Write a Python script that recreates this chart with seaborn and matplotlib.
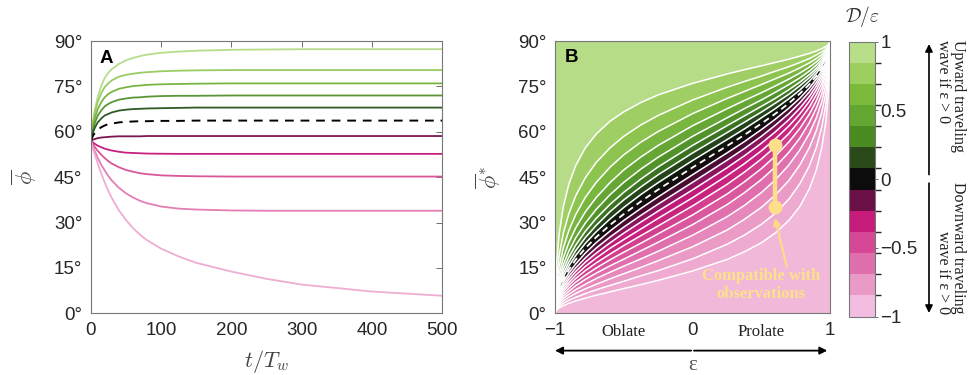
import numpy as np
import pandas as pd
import matplotlib
matplotlib.use("Agg")
import matplotlib.pyplot as plt
import matplotlib as mpl
import seaborn as sns
from matplotlib.colors import ListedColormap, BoundaryNorm
from matplotlib.patches import FancyArrowPatch

# ---------------- data: panel A ----------------
t_vals = [0, 3, 6, 10, 15, 20, 25, 30, 40, 50, 60, 70, 80, 100, 125, 150, 200, 250, 300, 400, 500]
phiA = {
    "g1": [57.0, 63.2, 67.5, 71.5, 75.2, 77.8, 79.5, 80.7, 82.4, 83.6, 84.4, 85.0, 85.5, 86.1, 86.5, 86.8, 87.1, 87.2, 87.3, 87.3, 87.3],
    "g2": [57.0, 62.5, 66.4, 69.9, 72.8, 74.8, 76.0, 77.0, 78.2, 78.8, 79.2, 79.5, 79.7, 80.0, 80.2, 80.3, 80.4, 80.4, 80.4, 80.4, 80.4],
    "g3": [57.0, 61.5, 64.6, 67.5, 69.8, 71.4, 72.5, 73.2, 74.2, 74.7, 75.1, 75.3, 75.5, 75.7, 75.8, 75.9, 76.0, 76.0, 76.0, 76.0, 76.0],
    "g4": [57.0, 60.5, 63.0, 65.3, 67.1, 68.4, 69.2, 69.8, 70.6, 71.0, 71.3, 71.4, 71.6, 71.8, 71.9, 71.9, 72.0, 72.0, 72.0, 72.0, 72.0],
    "g5": [57.0, 59.6, 61.4, 63.1, 64.4, 65.4, 65.9, 66.4, 67.0, 67.3, 67.5, 67.6, 67.7, 67.8, 67.9, 68.0, 68.0, 68.0, 68.0, 68.0, 68.0],
    "m1": [57.0, 57.4, 57.6, 57.9, 58.1, 58.2, 58.3, 58.4, 58.5, 58.5, 58.5, 58.5, 58.6, 58.6, 58.6, 58.6, 58.6, 58.6, 58.6, 58.6, 58.6],
    "m2": [57.0, 56.5, 56.0, 55.4, 54.9, 54.4, 54.1, 53.8, 53.4, 53.1, 53.0, 52.9, 52.8, 52.75, 52.7, 52.7, 52.7, 52.7, 52.7, 52.7, 52.7],
    "m3": [57.0, 55.9, 54.9, 53.7, 52.4, 51.3, 50.3, 49.5, 48.3, 47.4, 46.8, 46.3, 46.0, 45.6, 45.4, 45.3, 45.2, 45.2, 45.2, 45.2, 45.2],
    "m4": [57.0, 55.2, 53.5, 51.4, 49.1, 47.2, 45.4, 43.9, 41.5, 39.7, 38.3, 37.2, 36.4, 35.3, 34.6, 34.3, 34.0, 33.9, 33.9, 33.9, 33.9],
    "m5": [57.0, 54.6, 52.3, 49.5, 46.2, 43.2, 40.5, 38.1, 34.1, 30.9, 28.2, 26.0, 24.2, 21.4, 18.8, 16.7, 13.8, 11.4, 9.5, 7.2, 5.8],
}
phiA_dashed = [57.0, 58.6, 59.7, 60.7, 61.5, 62.1, 62.5, 62.7, 63.1, 63.3, 63.4, 63.5, 63.5, 63.6, 63.6, 63.7, 63.7, 63.7, 63.7, 63.7, 63.7]
colorsA = {
    "g1": "#b5dd8c", "g2": "#9bcc62", "g3": "#78b545", "g4": "#5a9636", "g5": "#2f5a24",
    "m1": "#7d1650", "m2": "#c8207f", "m3": "#d95799", "m4": "#e37fb3", "m5": "#eeadd2",
}

# ---------------- data: panel B ----------------
eps = [-1, -0.99, -0.97, -0.94, -0.9, -0.85, -0.78, -0.7, -0.6, -0.5, -0.375, -0.25, 0,
       0.25, 0.375, 0.5, 0.6, 0.7, 0.78, 0.85, 0.9, 0.94, 0.97, 0.99, 1]
upper_lines = [
    [0, 15.9, 26.3, 35.2, 42.6, 48.8, 54.7, 59.3, 63.5, 66.6, 69.7, 72.2, 76.0, 79.1, 80.5, 81.8, 82.9, 84.0, 85.0, 85.9, 86.7, 87.5, 88.2, 89.0, 90],
    [0, 11.3, 19.2, 26.4, 32.9, 38.8, 44.8, 49.9, 54.7, 58.5, 62.3, 65.4, 70.5, 74.7, 76.6, 78.4, 80.0, 81.5, 82.9, 84.2, 85.4, 86.4, 87.5, 88.6, 90],
    [0, 9.1, 15.5, 21.6, 27.3, 32.6, 38.3, 43.3, 48.3, 52.4, 56.6, 60.1, 66.0, 71.0, 73.3, 75.6, 77.5, 79.4, 81.1, 82.8, 84.2, 85.5, 86.9, 88.2, 90],
    [0, 7.6, 13.1, 18.3, 23.3, 28.2, 33.5, 38.3, 43.2, 47.4, 51.7, 55.5, 62.0, 67.6, 70.3, 72.9, 75.1, 77.4, 79.4, 81.4, 83.1, 84.7, 86.3, 87.8, 90],
    [0, 6.6, 11.4, 16.0, 20.5, 24.9, 29.8, 34.4, 39.2, 43.3, 47.7, 51.6, 58.5, 64.6, 67.6, 70.5, 73.0, 75.6, 77.8, 80.1, 82.0, 83.9, 85.7, 87.5, 90],
    [0, 5.9, 10.2, 14.4, 18.5, 22.5, 27.1, 31.4, 36.0, 40.0, 44.4, 48.4, 55.5, 62.0, 65.2, 68.4, 71.0, 73.9, 76.4, 78.9, 81.0, 83.1, 85.2, 87.2, 90],
    [0, 5.4, 9.3, 13.1, 16.9, 20.7, 25.0, 29.1, 33.6, 37.5, 41.8, 45.8, 53.0, 59.7, 63.1, 66.5, 69.4, 72.4, 75.2, 77.9, 80.2, 82.5, 84.7, 86.9, 90],
    [0, 4.9, 8.5, 12.0, 15.6, 19.1, 23.1, 27.0, 31.2, 35.0, 39.3, 43.2, 50.5, 57.4, 60.9, 64.6, 67.6, 70.9, 73.8, 76.8, 79.3, 81.8, 84.2, 86.7, 90],
]
zero_line = [0, 4.5, 7.9, 11.1, 14.4, 17.7, 21.5, 25.2, 29.2, 32.8, 37.0, 40.9, 48.2, 55.3, 58.9, 62.7, 65.9, 69.4, 72.6, 75.7, 78.4, 81.1, 83.7, 86.4, 90]
lower_lines = [
    [0, 4.2, 7.2, 10.3, 13.3, 16.3, 19.9, 23.4, 27.2, 30.7, 34.7, 38.5, 45.8, 53.0, 56.7, 60.7, 64.1, 67.8, 71.1, 74.5, 77.4, 80.3, 83.2, 86.1, 90],
    [0, 3.8, 6.6, 9.4, 12.2, 15.0, 18.3, 21.6, 25.2, 28.5, 32.4, 36.1, 43.3, 50.6, 54.4, 58.5, 62.1, 66.0, 69.6, 73.2, 76.3, 79.4, 82.5, 85.7, 90],
    [0, 3.5, 6.1, 8.6, 11.2, 13.8, 16.9, 19.9, 23.3, 26.5, 30.2, 33.8, 40.8, 48.1, 52.0, 56.2, 59.9, 64.0, 67.8, 71.7, 75.1, 78.5, 81.9, 85.3, 90],
    [0, 3.2, 5.5, 7.9, 10.2, 12.6, 15.5, 18.3, 21.5, 24.4, 27.9, 31.4, 38.2, 45.5, 49.4, 53.7, 57.6, 61.9, 65.9, 70.1, 73.8, 77.4, 81.1, 84.9, 90],
    [0, 2.9, 5.0, 7.2, 9.3, 11.5, 14.1, 16.7, 19.6, 22.4, 25.7, 28.9, 35.5, 42.6, 46.6, 51.0, 55.0, 59.4, 63.8, 68.2, 72.2, 76.1, 80.2, 84.3, 90],
    [0, 2.6, 4.5, 6.4, 8.3, 10.3, 12.6, 15.0, 17.7, 20.2, 23.2, 26.3, 32.5, 39.4, 43.4, 47.8, 51.9, 56.6, 61.1, 65.9, 70.2, 74.6, 79.0, 83.7, 90],
    [0, 2.3, 4.0, 5.6, 7.3, 9.1, 11.2, 13.3, 15.7, 17.9, 20.7, 23.5, 29.3, 35.9, 39.8, 44.2, 48.3, 53.2, 57.9, 63.1, 67.8, 72.6, 77.6, 82.8, 90],
    [0, 2.0, 3.4, 4.9, 6.3, 7.8, 9.6, 11.5, 13.6, 15.6, 18.0, 20.5, 25.8, 31.9, 35.6, 39.9, 44.0, 49.0, 54.0, 59.5, 64.6, 70.0, 75.7, 81.7, 90],
    [0, 1.6, 2.9, 4.1, 5.3, 6.6, 8.1, 9.6, 11.4, 13.1, 15.2, 17.4, 22.0, 27.5, 31.0, 35.0, 39.0, 43.9, 49.0, 54.8, 60.4, 66.5, 73.0, 80.1, 90],
    [0, 1.3, 2.3, 3.3, 4.3, 5.3, 6.5, 7.8, 9.2, 10.6, 12.4, 14.1, 18.0, 22.8, 25.8, 29.4, 33.0, 37.7, 42.8, 48.8, 54.8, 61.6, 69.2, 77.7, 90],
    [0, 1.0, 1.8, 2.5, 3.3, 4.1, 5.0, 6.0, 7.1, 8.2, 9.5, 10.9, 14.0, 17.8, 20.3, 23.3, 26.5, 30.7, 35.3, 41.2, 47.4, 54.8, 63.6, 74.1, 90],
]
band_colors = [
    "#b6dc88", "#9fcf64", "#8cc44f", "#79b640", "#66a635", "#52922a", "#3b7222", "#24431a", "#0f170d",
    "#150a10", "#4a0c32", "#8c1360", "#c01a7a", "#c8247f", "#d2408f", "#d9589e", "#e070ad",
    "#e688bb", "#ea9cc6", "#eeaad0", "#f1b8d9",
]
cbar_colors_top_down = [
    "#b9de8a", "#9dce60", "#7cba3c", "#64a632", "#4a8b22", "#2a4a1a", "#0c0c0c",
    "#6a1046", "#c71b7c", "#d64896", "#e070ad", "#ea9ac6", "#f2bde0",
]
obs_eps = [0.6, 0.6]
obs_phi = [35.0, 55.5]
obs_arrow_tail = (0.685, 15.4)
obs_arrow_head = (0.6, 31.5)

deg_ticks = [0, 15, 30, 45, 60, 75, 90]
t_ticks = [0, 100, 200, 300, 400, 500]

# ---------------- style ----------------
sns.set_theme(style="white")
plt.rcParams["font.family"] = ["Liberation Sans", "DejaVu Sans"]
plt.rcParams["mathtext.fontset"] = "cm"
SERIF = ["Liberation Serif", "DejaVu Serif"]
TICKC = "#262626"

fig = plt.figure(figsize=(9.69, 3.75), dpi=100)
axA = fig.add_axes([0.0936, 0.1645, 0.3628, 0.7261])
axB = fig.add_axes([0.5728, 0.1645, 0.2838, 0.7261])
cax = fig.add_axes([0.8762, 0.156, 0.0268, 0.733])


def style_axes(ax):
    ax.tick_params(direction="in", length=4, width=0.6, color="#555555", top=True, right=True,
                   labelsize=13.5, labelcolor=TICKC, pad=6)
    for s in ax.spines.values():
        s.set_color("#777777")
        s.set_linewidth(0.8)


# ---------------- panel A ----------------
dfA = pd.DataFrame([(t, v, k) for k, vals in phiA.items() for t, v in zip(t_vals, vals)],
                   columns=["t", "phi", "curve"])
sns.lineplot(data=dfA, x="t", y="phi", hue="curve", palette=colorsA, estimator=None,
             legend=False, lw=1.3, ax=axA)
sns.lineplot(x=t_vals, y=phiA_dashed, color="black", lw=1.4, ax=axA)
axA.lines[-1].set_dashes([4.5, 3.5])
axA.set_xlim(t_ticks[0], t_ticks[-1])
axA.set_ylim(deg_ticks[0], deg_ticks[-1])
axA.set_xticks(t_ticks)
axA.set_yticks(deg_ticks)
axA.set_yticklabels([f"{d}°" for d in deg_ticks])
axA.set_xlabel("")
axA.set_ylabel("")
style_axes(axA)
axA.text(0.026, 0.968, "A", transform=axA.transAxes, fontsize=13.5, fontweight="bold",
         va="top", ha="left", color="black")
axA.text(0.5, -0.178, r"$t/T_w$", transform=axA.transAxes, ha="center", va="center",
         fontsize=16, color="#444444")
axA.text(-0.19, 0.5, r"$\overline{\phi}$", transform=axA.transAxes, ha="center", va="center",
         fontsize=16, rotation=90, color="#444444")

# ---------------- panel B ----------------
boundaries = upper_lines + [zero_line] + lower_lines
top_edge = [deg_ticks[-1]] * len(eps)
bottom_edge = [deg_ticks[0]] * len(eps)
stack = [top_edge] + boundaries + [bottom_edge]
for i in range(len(stack) - 1):
    axB.fill_between(eps, stack[i + 1], stack[i], color=band_colors[i], lw=0.4,
                     edgecolor=band_colors[i])
for ln in upper_lines + lower_lines:
    sns.lineplot(x=eps, y=ln, color="white", lw=1.1, ax=axB)
sns.lineplot(x=eps, y=zero_line, color="white", lw=1.3, ax=axB)
axB.lines[-1].set_dashes([3.5, 2.5])

# observations
axB.plot(obs_eps, obs_phi, color="#fddf8b", lw=3.2, marker="o", ms=9, solid_capstyle="butt",
         zorder=5)
axB.annotate("", xy=obs_arrow_head, xytext=obs_arrow_tail,
             arrowprops=dict(arrowstyle="-|>", color="#fddc85", lw=1.6, mutation_scale=10,
                             shrinkA=0, shrinkB=0), zorder=6)
axB.text(0.5, 9.4, "Compatible with\nobservations", ha="center", va="center", fontsize=12,
         fontweight="bold", family=SERIF, color="#fde08a", linespacing=1.15, zorder=6)

axB.set_xlim(eps[0], eps[-1])
axB.set_ylim(deg_ticks[0], deg_ticks[-1])
axB.set_xticks([-1, 0, 1])
axB.set_xticklabels(["\u22121", "0", "1"])
axB.set_yticks(deg_ticks)
axB.set_yticklabels([f"{d}°" for d in deg_ticks])
axB.set_xlabel("")
axB.set_ylabel("")
style_axes(axB)
axB.text(0.036, 0.97, "B", transform=axB.transAxes, fontsize=13.5, fontweight="bold",
         va="top", ha="left", color="black", zorder=7)
axB.text(-0.244, 0.5, r"$\overline{\phi}^{*}$", transform=axB.transAxes, ha="center",
         va="center", fontsize=16, rotation=90, color="#444444")
xt = axB.get_xaxis_transform()
axB.text(-0.5, -0.069, "Oblate", transform=xt, ha="center", va="center", fontsize=12,
         family=SERIF, color="#222222")
axB.text(0.5, -0.069, "Prolate", transform=xt, ha="center", va="center", fontsize=12,
         family=SERIF, color="#222222")
for end in (-1, 0.98):
    axB.annotate("", xy=(end, -0.137), xytext=(0, -0.137), xycoords=xt, textcoords=xt,
                 arrowprops=dict(arrowstyle="-|>", color="black", lw=1.3, mutation_scale=11,
                                 shrinkA=1, shrinkB=0), annotation_clip=False)
axB.text(0, -0.19, "ε", transform=xt, ha="center", va="center", fontsize=15, family=SERIF,
         color="#555555")

# ---------------- colorbar ----------------
cmap = ListedColormap(cbar_colors_top_down[::-1])
norm = BoundaryNorm(np.linspace(-1, 1, len(cbar_colors_top_down) + 1), cmap.N)
cb = fig.colorbar(mpl.cm.ScalarMappable(norm=norm, cmap=cmap), cax=cax,
                  ticks=[-1, -0.5, 0, 0.5, 1])
cb.ax.set_yticklabels(["\u22121", "\u22120.5", "0", "0.5", "1"])
cb.ax.tick_params(length=2, width=0.6, labelsize=13.5, labelcolor=TICKC, pad=2, color="#555555")
cb.outline.set_edgecolor("#777777")
cb.outline.set_linewidth(0.8)
cax.text(0.5, 1.045, r"$\mathcal{D}/\varepsilon$", transform=cax.transAxes, ha="center",
         va="bottom", fontsize=14, color="#333333")

# ---------------- right side annotation ----------------
fig.add_artist(FancyArrowPatch((0.9587, 0.527), (0.9587, 0.890), transform=fig.transFigure,
                               arrowstyle="-|>", mutation_scale=11, lw=1.2, color="black"))
fig.add_artist(FancyArrowPatch((0.9587, 0.519), (0.9587, 0.158), transform=fig.transFigure,
                               arrowstyle="-|>", mutation_scale=11, lw=1.2, color="black"))
fig.text(0.981, 0.893, "Upward traveling\nwave if ε > 0", rotation=-90, ha="center", va="top",
         multialignment="left", family=SERIF, fontsize=11.5, linespacing=0.95, color="#222222")
fig.text(0.981, 0.163, "Downward traveling\nwave if ε > 0", rotation=-90, ha="center",
         va="bottom", multialignment="right", family=SERIF, fontsize=11.5, linespacing=0.95,
         color="#222222")

fig.savefig("out.png", dpi=100)
